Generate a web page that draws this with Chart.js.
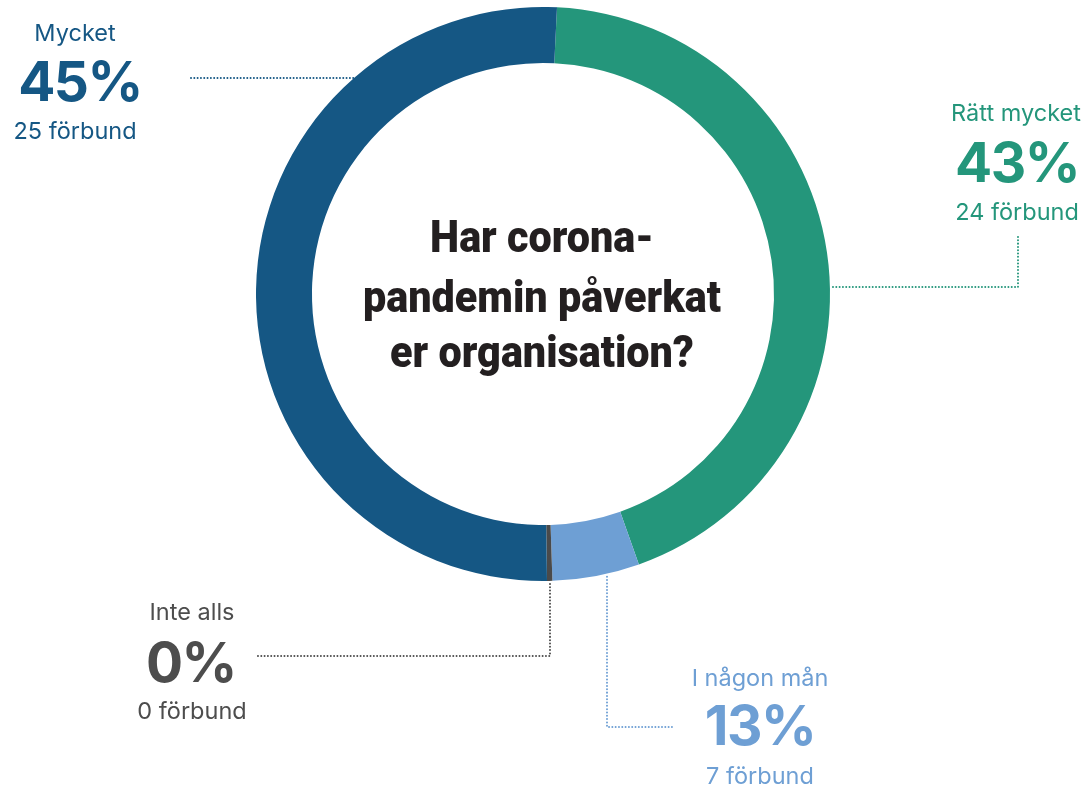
<!DOCTYPE html>
<html>
<head>
<meta charset="utf-8">
<script src="https://cdn.jsdelivr.net/npm/chart.js@4.4.1/dist/chart.umd.min.js"></script>
<style>
  html, body { margin: 0; padding: 0; background: #fff; }
  #wrap { width: 1088px; height: 785px; }
</style>
</head>
<body>
<div id="wrap"><canvas id="donut" width="1088" height="785"></canvas></div>
<script>
// ---- data ----
const categories = ['Rätt mycket', 'I någon mån', 'Inte alls', 'Mycket'];
// arc shares as drawn (clockwise from just right of 12 o'clock)
const arcShares = [43.8, 4.9, 0.3, 51.0];
const percentLabels = ['43%', '13%', '0%', '45%'];
const countLabels = ['24 förbund', '7 förbund', '0 förbund', '25 förbund'];
const titleLines = ['Har corona-', 'pandemin påverkat', 'er organisation?'];

// ---- styles / layout ----
const sliceColors = ['#24967b', '#6e9fd4', '#4a4a4a', '#155784'];
const textColors = ['#24967b', '#6e9fd4', '#4d4d4d', '#155784'];
const LABEL_FONT = '"Inter", "Lato", sans-serif';
const TITLE_FONT = '"Roboto", "Liberation Sans", sans-serif';

// label blocks: centre x per line and baselines [name, percent, count]
const labelLayout = [
  { xs: [1016, 1017, 1017], ys: [121, 182, 220] },
  { xs: [760, 760, 760], ys: [686, 745, 784] },
  { xs: [192, 191, 192], ys: [620, 682, 719] },
  { xs: [75, 80, 75], ys: [41, 101, 139] }
];

function ringX(cx, cy, r, y, side) { return cx + side * Math.sqrt(r * r - (y - cy) * (y - cy)); }
function ringY(cx, cy, r, x) { return cy + Math.sqrt(r * r - (x - cx) * (x - cx)); }

function dotted(ctx, pts, color) {
  ctx.save();
  ctx.strokeStyle = color;
  ctx.lineWidth = 2;
  ctx.lineCap = 'round';
  ctx.setLineDash([0.01, 3.3]);
  ctx.beginPath();
  ctx.moveTo(pts[0][0], pts[0][1]);
  for (let i = 1; i < pts.length; i++) ctx.lineTo(pts[i][0], pts[i][1]);
  ctx.stroke();
  ctx.restore();
}

const annotations = {
  id: 'annotations',
  afterDraw(chart) {
    const ctx = chart.ctx;
    const arc = chart.getDatasetMeta(0).data[0];
    const cx = arc.x, cy = arc.y, R = arc.outerRadius;

    // leader lines
    dotted(ctx, [[191, 78], [ringX(cx, cy, R, 78, -1), 78]], textColors[3]);
    dotted(ctx, [[1018, 237], [1018, 287], [ringX(cx, cy, R, 287, 1), 287]], textColors[0]);
    dotted(ctx, [[550, ringY(cx, cy, R, 550) + 3], [550, 656], [256, 656]], textColors[2]);
    dotted(ctx, [[607, ringY(cx, cy, R, 607) + 3], [607, 727], [674, 727]], textColors[1]);

    // label blocks
    ctx.save();
    ctx.textAlign = 'center';
    ctx.textBaseline = 'alphabetic';
    categories.forEach((name, i) => {
      const L = labelLayout[i];
      ctx.fillStyle = textColors[i];
      ctx.letterSpacing = '0px';
      ctx.font = '400 23.5px ' + LABEL_FONT;
      ctx.fillText(name, L.xs[0], L.ys[0]);
      ctx.letterSpacing = '-1.5px';
      ctx.font = '700 55px ' + LABEL_FONT;
      ctx.fillText(percentLabels[i], L.xs[1], L.ys[1]);
      ctx.letterSpacing = '0px';
      ctx.font = '400 23.5px ' + LABEL_FONT;
      ctx.fillText(countLabels[i], L.xs[2], L.ys[2]);
    });

    // centre title, condensed to fit
    ctx.letterSpacing = '0px';
    ctx.font = '900 45px ' + TITLE_FONT;
    const sx = 358 / ctx.measureText(titleLines[1]).width;
    const baselines = [252, 312, 367];
    ctx.fillStyle = '#231f20';
    titleLines.forEach((line, i) => {
      ctx.save();
      ctx.translate(542, baselines[i]);
      ctx.scale(sx, 1);
      ctx.fillText(line, 0, 0);
      ctx.restore();
    });
    ctx.restore();
  }
};

new Chart(document.getElementById('donut'), {
  type: 'doughnut',
  data: {
    labels: categories,
    datasets: [{
      data: arcShares,
      backgroundColor: sliceColors,
      borderWidth: 0,
      hoverBorderWidth: 0,
      hoverOffset: 0
    }]
  },
  options: {
    responsive: false,
    animation: false,
    devicePixelRatio: 1,
    events: [],
    cutout: '80.5%',
    rotation: 2.8,
    layout: { padding: { left: 256, top: 7, right: 258, bottom: 204 } },
    plugins: { legend: { display: false }, tooltip: { enabled: false } }
  },
  plugins: [annotations]
});
</script>
</body>
</html>
